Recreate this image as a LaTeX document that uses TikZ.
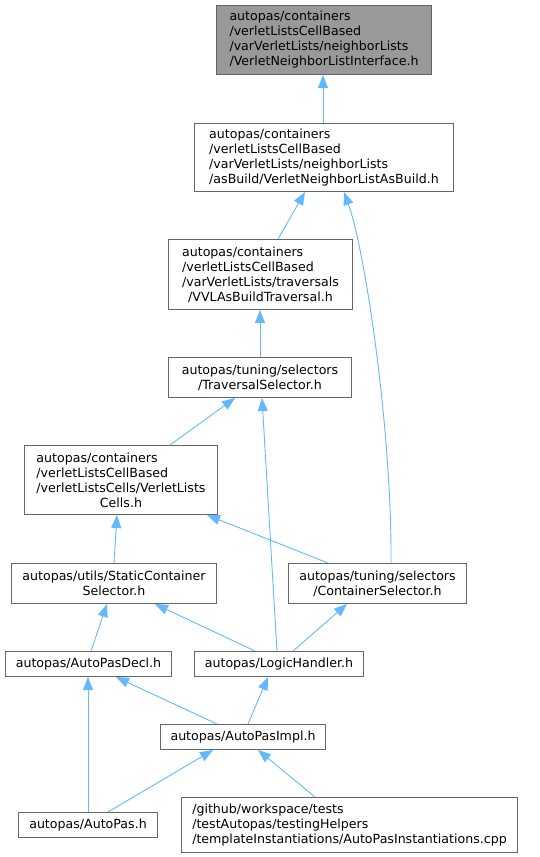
\documentclass[tikz,border=0pt]{standalone}
\usepackage{fontspec}
\setmainfont{DejaVu Sans}
\usetikzlibrary{arrows.meta}
\definecolor{edgeblue}{HTML}{63B8FF}
\definecolor{boxgrey}{HTML}{666666}
\definecolor{fillgrey}{HTML}{999999}
\begin{document}
\begin{tikzpicture}[x=1pt,y=-1pt,
  box/.style={draw=boxgrey, line width=1pt, fill=white, rectangle, inner sep=0pt, anchor=north west,
    font=\fontsize{12.6}{15}\selectfont, align=left},
  cbox/.style={box, align=center},
  edge/.style={draw=edgeblue, line width=0.9pt, {Triangle[length=13pt,width=10pt]}-}]
\useasboundingbox (0,0) rectangle (539,857);

\node[box, fill=fillgrey, minimum width=215pt, minimum height=69pt] (A) at (216,5)
  {autopas/containers\\/verletListsCellBased\\/varVerletLists/neighborLists\\/VerletNeighborListInterface.h};
\node[box, minimum width=259pt, minimum height=68pt] (B) at (194,123)
  {autopas/containers\\/verletListsCellBased\\/varVerletLists/neighborLists\\/asBuild/VerletNeighborListAsBuild.h};
\node[cbox, minimum width=184pt, minimum height=70pt] (C) at (168,239)
  {\begin{tabular}{@{}l@{}}autopas/containers\\/verletListsCellBased\\/varVerletLists/traversals\end{tabular}\\/VVLAsBuildTraversal.h};
\node[cbox, minimum width=183pt, minimum height=40pt] (D) at (168,357)
  {autopas/tuning/selectors\\/TraversalSelector.h};
\node[cbox, minimum width=193pt, minimum height=69pt] (E) at (24,445)
  {\begin{tabular}{@{}l@{}}autopas/containers\\/verletListsCellBased\\/verletListsCells/VerletLists\end{tabular}\\Cells.h};
\node[cbox, minimum width=205pt, minimum height=40pt] (F) at (11,563)
  {autopas/utils/StaticContainer\\Selector.h};
\node[cbox, minimum width=178pt, minimum height=40pt] (G) at (288,563)
  {autopas/tuning/selectors\\/ContainerSelector.h};
\node[cbox, minimum width=166pt, minimum height=25pt] (H) at (5,651)
  {autopas/AutoPasDecl.h};
\node[cbox, minimum width=169pt, minimum height=25pt] (I) at (194,651)
  {autopas/LogicHandler.h};
\node[cbox, minimum width=165pt, minimum height=25pt] (J) at (160,724)
  {autopas/AutoPasImpl.h};
\node[cbox, minimum width=139pt, minimum height=25pt] (K) at (18,812)
  {autopas/AutoPas.h};
\node[box, minimum width=336pt, minimum height=55pt] (L) at (181,797)
  {/github/workspace/tests\\/testAutopas/testingHelpers\\/templateInstantiations/AutoPasInstantiations.cpp};

% edges: tip at parent
\draw[edge] ([xshift=107pt]A.south west) -- ([xshift=129pt]B.north west);
\draw[edge] ([xshift=111pt]B.south west) -- ([xshift=110pt]C.north west);
\draw[edge] ([xshift=150pt]B.south west) .. controls (365,250) and (392,430) .. ([xshift=103pt]G.north west);
\draw[edge] ([xshift=92pt]C.south west) -- ([xshift=92pt]D.north west);
\draw[edge] ([xshift=67pt]D.south west) -- ([xshift=146pt]E.north west);
\draw[edge] ([xshift=94pt]D.south west) -- ([xshift=83pt]I.north west);
\draw[edge] ([xshift=93pt]E.south west) -- ([xshift=103pt]F.north west);
\draw[edge] ([xshift=183pt]E.south west) -- ([xshift=40pt]G.north west);
\draw[edge] ([xshift=96pt]F.south west) -- ([xshift=86pt]H.north west);
\draw[edge] ([xshift=144pt]F.south west) -- ([xshift=61pt]I.north west);
\draw[edge] ([xshift=59pt]G.south west) -- ([xshift=99pt]I.north west);
\draw[edge] ([xshift=83pt]H.south west) -- ([xshift=70pt]K.north west);
\draw[edge] ([xshift=111pt]H.south west) -- ([xshift=57pt]J.north west);
\draw[edge] ([xshift=74pt]I.south west) -- ([xshift=88pt]J.north west);
\draw[edge] ([xshift=53pt]J.south west) -- ([xshift=90pt]K.north west);
\draw[edge] ([xshift=98pt]J.south west) -- ([xshift=134pt]L.north west);
\end{tikzpicture}
\end{document}
